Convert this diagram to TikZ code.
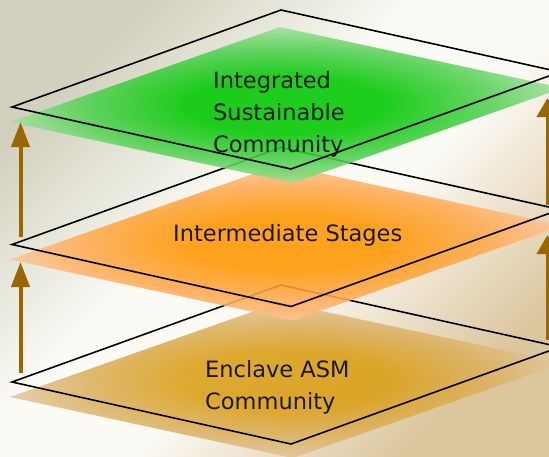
\documentclass[tikz,border=0pt]{standalone}
\usepackage{fontspec}
\setmainfont{DejaVu Sans}
\usetikzlibrary{arrows.meta}
\definecolor{bgL}{RGB}{210,209,190}
\definecolor{bgM}{RGB}{251,250,245}
\definecolor{bgR}{RGB}{220,198,158}
\definecolor{gC}{RGB}{0,200,0}
\definecolor{gM}{RGB}{80,208,80}
\definecolor{gE}{RGB}{160,224,155}
\definecolor{oC}{RGB}{255,150,0}
\definecolor{oM}{RGB}{255,170,80}
\definecolor{oE}{RGB}{255,196,152}
\definecolor{tC}{RGB}{218,158,20}
\definecolor{tM}{RGB}{220,176,95}
\definecolor{tE}{RGB}{226,198,155}
\definecolor{arr}{RGB}{153,102,0}
\definecolor{txt}{RGB}{25,25,25}
\pgfdeclarehorizontalshading{bgshade}{100bp}{color(0bp)=(bgL); color(25bp)=(bgL); color(44bp)=(bgM); color(56bp)=(bgM); color(75bp)=(bgR); color(100bp)=(bgR)}
\pgfdeclareradialshading{greenrad}{\pgfpointorigin}{color(0bp)=(gC); color(9bp)=(gC); color(18bp)=(gM); color(25bp)=(gE); color(50bp)=(gE)}
\pgfdeclareradialshading{orangerad}{\pgfpointorigin}{color(0bp)=(oC); color(9bp)=(oC); color(18bp)=(oM); color(25bp)=(oE); color(50bp)=(oE)}
\pgfdeclareradialshading{tanrad}{\pgfpointorigin}{color(0bp)=(tC); color(9bp)=(tC); color(18bp)=(tM); color(25bp)=(tE); color(50bp)=(tE)}
\tikzset{
  outline/.style={draw=black, line width=1.6pt, line join=miter},
  layerfill/.style={fill opacity=0.88},
  lbl/.style={font=\fontsize{22.5}{32}\selectfont, align=left, inner sep=0pt, text=txt},
  uparrow/.style={draw=arr, line width=4pt, -{Triangle[length=25pt,width=18pt]}},
  uparrowr/.style={draw=arr, line width=4pt, -{Triangle[length=19pt,width=21pt]}}
}
\begin{document}
\begin{tikzpicture}[x=1pt,y=-1pt]
\useasboundingbox (0,0) rectangle (549,456);
\shade[shading=bgshade, shading angle=-45] (0,0) rectangle (549,456);
% bottom layer
\begin{scope}[shift={(0,275)}]
  \shade[shading=tanrad, layerfill] (10,122) -- (280,27) -- (563,88) -- (293,183) -- cycle;
  \draw[outline] (12,107) -- (281,10) -- (560,72) -- (291,169) -- cycle;
\end{scope}
% middle layer
\begin{scope}[shift={(0,137.5)}]
  \shade[shading=orangerad, layerfill] (10,122) -- (280,27) -- (563,88) -- (293,183) -- cycle;
  \draw[outline] (12,107) -- (281,10) -- (560,72) -- (291,169) -- cycle;
\end{scope}
% top layer
\shade[shading=greenrad, layerfill] (10,122) -- (280,27) -- (563,88) -- (293,183) -- cycle;
\draw[outline] (12,107) -- (281,10) -- (560,72) -- (291,169) -- cycle;
% labels
\node[lbl, anchor=west] (top) at (213,114.3) {Integrated\\Sustainable\\Community};
\node[lbl, anchor=base west] (mid) at (173,241) {Intermediate Stages};
\node[lbl, anchor=west] (bot) at (205,386.8) {Enclave ASM\\Community};
% arrows
\coordinate (la1s) at (20.5,237); \coordinate (la1e) at (20.5,122);
\coordinate (la2s) at (20.5,373); \coordinate (la2e) at (20.5,262);
\coordinate (ra1s) at (547.5,205); \coordinate (ra1e) at (547.5,98);
\coordinate (ra2s) at (547.5,340); \coordinate (ra2e) at (547.5,235);
\draw[uparrow] (la1s) -- (la1e);
\draw[uparrow] (la2s) -- (la2e);
\draw[uparrowr] (ra1s) -- (ra1e);
\draw[uparrowr] (ra2s) -- (ra2e);
\end{tikzpicture}
\end{document}
